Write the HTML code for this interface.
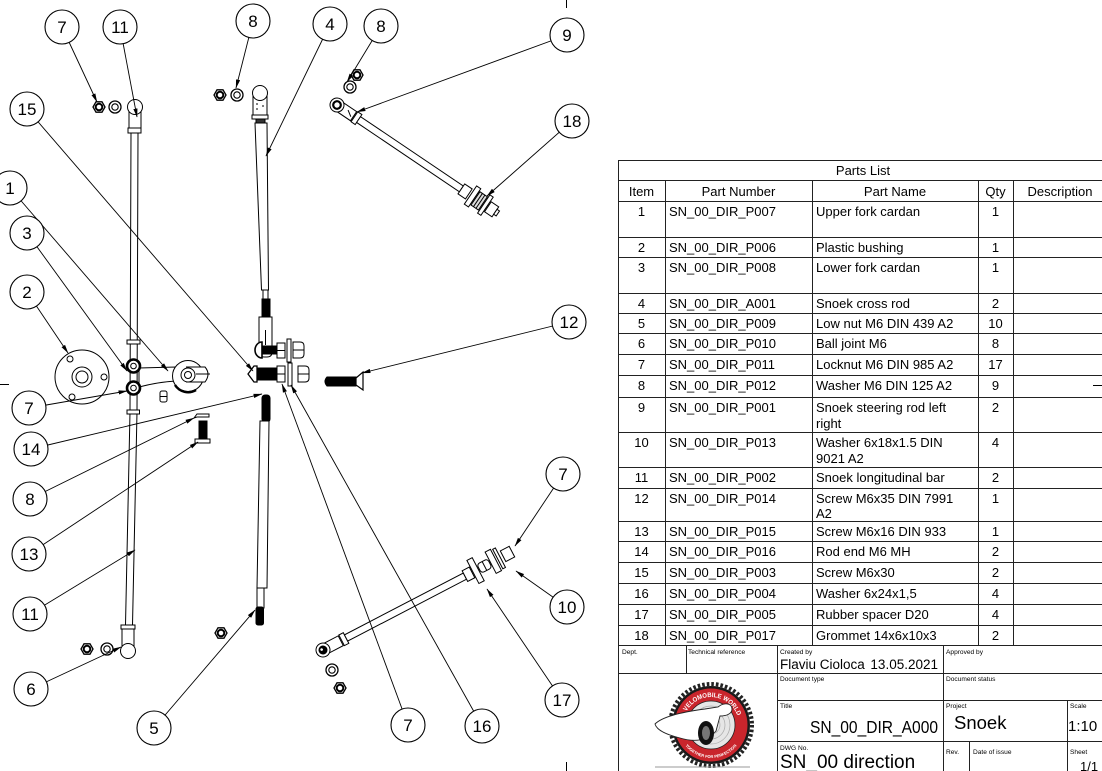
<!DOCTYPE html>
<html><head><meta charset="utf-8">
<style>
html,body{margin:0;padding:0;background:#fff;}
svg{display:block;}
text{font-family:"Liberation Sans",Arial,sans-serif;fill:#000;}
</style></head><body>
<svg width="1102" height="771" viewBox="0 0 1102 771" xmlns="http://www.w3.org/2000/svg">
<defs>
<marker id="ar" markerWidth="9" markerHeight="6" refX="8.5" refY="3" orient="auto" markerUnits="userSpaceOnUse"><path d="M0,0.9 L9,3 L0,5.1 Z" fill="#000"/></marker>
<g id="nut"><polygon points="6,0 3,5.2 -3,5.2 -6,0 -3,-5.2 3,-5.2" fill="#fff" stroke="#000" stroke-width="1.3"/><circle r="3.3" fill="#fff" stroke="#000" stroke-width="2"/></g>
<g id="wsh"><circle r="6" fill="#fff" stroke="#000" stroke-width="1.3"/><circle r="3.2" fill="#fff" stroke="#000" stroke-width="1.1"/></g>
<path id="arcT" d="M685.6,713.2 A28,28 0 0,1 738,717.7"/>
<path id="arcB" d="M682.4,741.5 A33,33 0 0,0 739.6,741.5"/>
</defs>

<!-- border ticks -->
<g stroke="#000" stroke-width="1">
<line x1="566.5" y1="0" x2="566.5" y2="8"/>
<line x1="566.5" y1="762" x2="566.5" y2="771"/>
<line x1="0" y1="384.5" x2="9" y2="384.5"/>
<line x1="1093" y1="385.5" x2="1102" y2="385.5"/>
</g>

<!-- ============ PARTS ============ -->
<g stroke="#000" stroke-width="1" fill="#fff">
<!-- left longitudinal bar 11 -->
<rect x="129" y="107" width="12" height="21"/>
<circle cx="135" cy="107" r="7.5"/>
<rect x="128" y="128" width="13" height="5"/>
<polygon points="131,133 138,133 137,412 132.5,625 125.5,625 130,412"/>
<rect x="121" y="625" width="14" height="4"/>
<path d="M122,629 L134,629 L134,646 L122,646 Z"/>
<circle cx="128" cy="651" r="7.5"/>
<!-- cardan block -->
<rect x="127" y="340" width="13" height="4"/>
<rect x="127" y="410" width="12.5" height="4"/>
<path d="M139,368 L176,367 L176,381 Q158,382 139,387 Z"/>
<circle cx="133.5" cy="366" r="6.5" stroke-width="2.6"/>
<circle cx="133.5" cy="366" r="2.8"/>
<circle cx="133.5" cy="388" r="6.5" stroke-width="2.6"/>
<circle cx="133.5" cy="388" r="2.8"/>
<!-- pulley / upper fork cardan -->
<circle cx="188" cy="376" r="15.5"/>
<path d="M175,385 A15.5,15.5 0 0,0 196,390" fill="none" stroke-width="2.5"/>
<path d="M186,367 L205,367 Q211,374 205,382 L186,382" />
<line x1="196" y1="374" x2="210" y2="374"/>
<circle cx="188" cy="375" r="7"/>
<circle cx="188" cy="375" r="3.5"/>
<!-- small nut -->
<rect x="160" y="391" width="7" height="11" rx="2"/>
<line x1="160" y1="396.5" x2="167" y2="396.5"/>
<!-- flange 2 -->
<circle cx="82" cy="377" r="27"/>
<circle cx="82" cy="377" r="10"/>
<circle cx="82" cy="377" r="6"/>
<circle cx="70" cy="359" r="3"/>
<circle cx="104" cy="377" r="3"/>
<circle cx="72" cy="397" r="3"/>
<!-- rod end 14 small piece -->
<path d="M194,418 L197,414 L209,414 L209,417 L197,417 Z"/>
<!-- screw 13 -->
<rect x="199" y="421" width="8" height="18" fill="#000"/>
<rect x="195" y="439" width="15" height="4"/>

<!-- upper rod 4 -->
<rect x="253" y="95" width="14" height="20"/>
<line x1="256" y1="104" x2="258" y2="104"/>
<line x1="262" y1="106" x2="264" y2="106"/>
<line x1="256" y1="109" x2="258" y2="109"/>
<circle cx="260" cy="93" r="7.5"/>
<rect x="252" y="115" width="16" height="4"/>
<rect x="256" y="119" width="9" height="4" fill="#333"/>
<polygon points="255,123 267,123 268.5,290 261.5,290"/>
<rect x="263" y="290" width="5" height="9"/>
<rect x="262" y="299" width="8" height="18" fill="#000"/>
<path d="M259,317 L272,317 L272,352 Q272,357 267,357 L264,357 Q259,357 259,352 Z"/>
<line x1="265.5" y1="330" x2="265.5" y2="345"/>
<!-- bolt 1 -->
<rect x="263" y="346" width="14" height="8" fill="#000"/>
<path d="M262,342 A7,8 0 0,0 262,358 Z" stroke-width="1.6"/>
<rect x="277" y="343" width="8" height="15"/>
<line x1="277" y1="350.5" x2="285" y2="350.5"/>
<rect x="287" y="339" width="4" height="23"/>
<path d="M293,342 L300,342 Q304,342 304,346 L304,354 Q304,358 300,358 L293,358 Z"/>
<line x1="293" y1="350" x2="304" y2="350"/>
<!-- bolt 2 -->
<rect x="257" y="368" width="20" height="12" fill="#000"/>
<polygon points="248,374 254,366 257,366 257,382 254,382" stroke-width="1.3"/>
<rect x="277" y="366" width="8" height="16"/>
<line x1="277" y1="374" x2="285" y2="374"/>
<rect x="288" y="363" width="4" height="23"/>
<path d="M298,366 L305,366 Q309,366 309,370 L309,378 Q309,382 305,382 L298,382 Z"/>
<line x1="298" y1="374" x2="309" y2="374"/>
<!-- screw 12 -->
<path d="M327,377 L356,377 L356,386 L327,386 Q323,381.5 327,377 Z" fill="#000"/>
<polygon points="356,378 363,372 363,390 356,385" stroke-width="1.2"/>

<!-- lower rod 5 -->
<rect x="262" y="395" width="8" height="27" rx="3" fill="#000"/>
<polygon points="260,421 269,421 267,588 257,588"/>
<rect x="257" y="588" width="7" height="20"/>
<rect x="256" y="607" width="7.5" height="18" rx="2" fill="#000"/>

<!-- upper right steering rod 9 -->
<g transform="translate(337,105) rotate(34)">
<rect x="0" y="-5.5" width="20" height="11"/>
<circle r="7"/>
<circle r="3.8" stroke-width="2.2"/>
<line x1="12" y1="-2" x2="18" y2="2"/>
<rect x="21" y="-6" width="5" height="12"/>
<rect x="26" y="-3.5" width="124" height="7"/>
<rect x="150" y="-6" width="9" height="12"/>
<rect x="161" y="-11" width="5" height="22"/>
<rect x="167" y="-8" width="9" height="16" fill="#ddd"/>
<line x1="170" y1="-8" x2="170" y2="8"/>
<line x1="173" y1="-8" x2="173" y2="8"/>
<rect x="177" y="-11" width="4" height="22"/>
<rect x="182" y="-6" width="9" height="12"/>
<rect x="191" y="-3" width="3" height="6"/>
</g>

<!-- lower steering rod -->
<g transform="translate(323,650) rotate(-27.5)">
<rect x="0" y="-5.5" width="20" height="11"/>
<circle r="7"/>
<circle r="4" fill="#000"/>
<circle cx="-1" cy="-1" r="1.3" fill="#fff" stroke="none"/>
<rect x="21" y="-6" width="5" height="12"/>
<rect x="26" y="-3.5" width="134" height="7"/>
<rect x="160" y="-6" width="8" height="12"/>
<rect x="169" y="-13" width="6" height="26"/>
<rect x="176" y="-5" width="12" height="10" rx="3"/>
<line x1="182" y1="-5" x2="182" y2="5"/>
<rect x="189" y="-12" width="6" height="24"/>
<rect x="197" y="-11" width="3" height="22"/>
<rect x="203" y="-6" width="10" height="12"/>
</g>
</g>

<!-- nuts & washers -->
<use href="#nut" x="99" y="107"/>
<use href="#wsh" x="115" y="107"/>
<use href="#nut" x="87" y="649"/>
<use href="#wsh" x="107" y="649"/>
<use href="#nut" x="220" y="95"/>
<use href="#wsh" x="237" y="95"/>
<use href="#nut" x="357" y="75"/>
<use href="#wsh" x="350" y="87"/>
<use href="#nut" x="221" y="633"/>
<use href="#wsh" x="332" y="670"/>
<use href="#nut" x="340" y="688"/>

<!-- ============ LEADERS ============ -->
<g stroke="#000" stroke-width="0.9" fill="none" marker-end="url(#ar)">
<line x1="62" y1="27" x2="97" y2="102"/>
<line x1="120" y1="27" x2="137" y2="117"/>
<line x1="253" y1="21" x2="236" y2="88"/>
<line x1="330" y1="24" x2="266" y2="156"/>
<line x1="381" y1="26" x2="347" y2="82"/>
<line x1="567" y1="35" x2="357" y2="112"/>
<line x1="572" y1="121" x2="487" y2="196"/>
<line x1="27" y1="109" x2="253" y2="371"/>
<line x1="10" y1="188" x2="168" y2="371"/>
<line x1="27" y1="233" x2="127" y2="371"/>
<line x1="27" y1="292" x2="68" y2="353"/>
<line x1="569" y1="322" x2="362" y2="373"/>
<line x1="29" y1="408" x2="127" y2="391"/>
<line x1="31" y1="449" x2="262" y2="394"/>
<line x1="30" y1="499" x2="194" y2="418"/>
<line x1="29" y1="554" x2="198" y2="442"/>
<line x1="30" y1="614" x2="135" y2="550"/>
<line x1="31" y1="689" x2="121" y2="647"/>
<line x1="154" y1="728" x2="255" y2="610"/>
<line x1="408" y1="725" x2="282" y2="384"/>
<line x1="482" y1="726" x2="291" y2="385"/>
<line x1="562" y1="700" x2="487" y2="589"/>
<line x1="567" y1="607" x2="516" y2="571"/>
<line x1="563" y1="474" x2="515" y2="546"/>
</g>

<!-- ============ BALLOONS ============ -->
<g stroke="#000" stroke-width="1.1" fill="#fff">
<circle cx="62" cy="27" r="17"/><circle cx="120" cy="27" r="17"/><circle cx="253" cy="21" r="17"/>
<circle cx="330" cy="24" r="17"/><circle cx="381" cy="26" r="17"/><circle cx="567" cy="35" r="17"/>
<circle cx="27" cy="109" r="17"/><circle cx="572" cy="121" r="17"/><circle cx="10" cy="188" r="17"/>
<circle cx="27" cy="233" r="17"/><circle cx="27" cy="292" r="17"/><circle cx="569" cy="322" r="17"/>
<circle cx="29" cy="408" r="17"/><circle cx="31" cy="449" r="17"/><circle cx="30" cy="499" r="17"/>
<circle cx="29" cy="554" r="17"/><circle cx="30" cy="614" r="17"/><circle cx="31" cy="689" r="17"/>
<circle cx="154" cy="728" r="17"/><circle cx="408" cy="725" r="17"/><circle cx="482" cy="726" r="17"/>
<circle cx="562" cy="700" r="17"/><circle cx="567" cy="607" r="17"/><circle cx="563" cy="474" r="17"/>
</g>
<g font-size="17" text-anchor="middle">
<text x="62" y="33">7</text><text x="120" y="33">11</text><text x="253" y="27">8</text>
<text x="330" y="30">4</text><text x="381" y="32">8</text><text x="567" y="41">9</text>
<text x="27" y="115">15</text><text x="572" y="127">18</text><text x="10" y="194">1</text>
<text x="27" y="239">3</text><text x="27" y="298">2</text><text x="569" y="328">12</text>
<text x="29" y="414">7</text><text x="31" y="455">14</text><text x="30" y="505">8</text>
<text x="29" y="560">13</text><text x="30" y="620">11</text><text x="31" y="695">6</text>
<text x="154" y="734">5</text><text x="408" y="731">7</text><text x="482" y="732">16</text>
<text x="562" y="706">17</text><text x="567" y="613">10</text><text x="563" y="480">7</text>
</g>

<!-- ============ PARTS LIST TABLE ============ -->
<g stroke="#222" stroke-width="1" shape-rendering="crispEdges">
<line x1="618" y1="160.5" x2="1102" y2="160.5"/>
<line x1="618" y1="180.5" x2="1102" y2="180.5"/>
<line x1="618" y1="201.5" x2="1102" y2="201.5"/>
<line x1="618" y1="237.5" x2="1102" y2="237.5"/>
<line x1="618" y1="257.5" x2="1102" y2="257.5"/>
<line x1="618" y1="293.5" x2="1102" y2="293.5"/>
<line x1="618" y1="313.5" x2="1102" y2="313.5"/>
<line x1="618" y1="333.5" x2="1102" y2="333.5"/>
<line x1="618" y1="354.5" x2="1102" y2="354.5"/>
<line x1="618" y1="375.5" x2="1102" y2="375.5"/>
<line x1="618" y1="397.5" x2="1102" y2="397.5"/>
<line x1="618" y1="432.5" x2="1102" y2="432.5"/>
<line x1="618" y1="467.5" x2="1102" y2="467.5"/>
<line x1="618" y1="488.5" x2="1102" y2="488.5"/>
<line x1="618" y1="521.5" x2="1102" y2="521.5"/>
<line x1="618" y1="541.5" x2="1102" y2="541.5"/>
<line x1="618" y1="562.5" x2="1102" y2="562.5"/>
<line x1="618" y1="583.5" x2="1102" y2="583.5"/>
<line x1="618" y1="604.5" x2="1102" y2="604.5"/>
<line x1="618" y1="625.5" x2="1102" y2="625.5"/>
<line x1="618" y1="645.5" x2="1102" y2="645.5"/>
<line x1="618.5" y1="160" x2="618.5" y2="771"/>
<line x1="665.5" y1="180" x2="665.5" y2="645"/>
<line x1="812.5" y1="180" x2="812.5" y2="645"/>
<line x1="978.5" y1="180" x2="978.5" y2="645"/>
<line x1="1013.5" y1="180" x2="1013.5" y2="645"/>
<!-- title block -->
<line x1="618" y1="673.5" x2="1102" y2="673.5"/>
<line x1="777" y1="700.5" x2="1102" y2="700.5"/>
<line x1="777" y1="741.5" x2="1102" y2="741.5"/>
<line x1="686.5" y1="645" x2="686.5" y2="673"/>
<line x1="777.5" y1="645" x2="777.5" y2="771"/>
<line x1="943.5" y1="645" x2="943.5" y2="771"/>
<line x1="969.5" y1="741" x2="969.5" y2="771"/>
<line x1="1067.5" y1="700" x2="1067.5" y2="771"/>
</g>

<g font-size="13">
<text x="863" y="175" text-anchor="middle">Parts List</text>
<text x="641.5" y="196" text-anchor="middle">Item</text>
<text x="738.5" y="196" text-anchor="middle">Part Number</text>
<text x="895" y="196" text-anchor="middle">Part Name</text>
<text x="995.5" y="196" text-anchor="middle">Qty</text>
<text x="1060" y="196" text-anchor="middle">Description</text>
</g>
<g font-size="13">
<g text-anchor="middle">
<text x="641.5" y="216">1</text><text x="641.5" y="252">2</text><text x="641.5" y="272">3</text>
<text x="641.5" y="308">4</text><text x="641.5" y="328">5</text><text x="641.5" y="348">6</text>
<text x="641.5" y="369">7</text><text x="641.5" y="390">8</text><text x="641.5" y="412">9</text>
<text x="641.5" y="447">10</text><text x="641.5" y="482">11</text><text x="641.5" y="503">12</text>
<text x="641.5" y="536">13</text><text x="641.5" y="556">14</text><text x="641.5" y="577">15</text>
<text x="641.5" y="598">16</text><text x="641.5" y="619">17</text><text x="641.5" y="640">18</text>
<text x="995.5" y="216">1</text><text x="995.5" y="252">1</text><text x="995.5" y="272">1</text>
<text x="995.5" y="308">2</text><text x="995.5" y="328">10</text><text x="995.5" y="348">8</text>
<text x="995.5" y="369">17</text><text x="995.5" y="390">9</text><text x="995.5" y="412">2</text>
<text x="995.5" y="447">4</text><text x="995.5" y="482">2</text><text x="995.5" y="503">1</text>
<text x="995.5" y="536">1</text><text x="995.5" y="556">2</text><text x="995.5" y="577">2</text>
<text x="995.5" y="598">4</text><text x="995.5" y="619">4</text><text x="995.5" y="640">2</text>
</g>
<text x="669" y="216">SN_00_DIR_P007</text><text x="816" y="216">Upper fork cardan</text>
<text x="669" y="252">SN_00_DIR_P006</text><text x="816" y="252">Plastic bushing</text>
<text x="669" y="272">SN_00_DIR_P008</text><text x="816" y="272">Lower fork cardan</text>
<text x="669" y="308">SN_00_DIR_A001</text><text x="816" y="308">Snoek cross rod</text>
<text x="669" y="328">SN_00_DIR_P009</text><text x="816" y="328">Low nut M6 DIN 439 A2</text>
<text x="669" y="348">SN_00_DIR_P010</text><text x="816" y="348">Ball joint M6</text>
<text x="669" y="369">SN_00_DIR_P011</text><text x="816" y="369">Locknut M6 DIN 985 A2</text>
<text x="669" y="390">SN_00_DIR_P012</text><text x="816" y="390">Washer M6 DIN 125 A2</text>
<text x="669" y="412">SN_00_DIR_P001</text><text x="816" y="412">Snoek steering rod left</text><text x="816" y="428">right</text>
<text x="669" y="447">SN_00_DIR_P013</text><text x="816" y="447">Washer 6x18x1.5 DIN</text><text x="816" y="463">9021 A2</text>
<text x="669" y="482">SN_00_DIR_P002</text><text x="816" y="482">Snoek longitudinal bar</text>
<text x="669" y="503">SN_00_DIR_P014</text><text x="816" y="503">Screw M6x35 DIN 7991</text><text x="816" y="518">A2</text>
<text x="669" y="536">SN_00_DIR_P015</text><text x="816" y="536">Screw M6x16 DIN 933</text>
<text x="669" y="556">SN_00_DIR_P016</text><text x="816" y="556">Rod end M6 MH</text>
<text x="669" y="577">SN_00_DIR_P003</text><text x="816" y="577">Screw M6x30</text>
<text x="669" y="598">SN_00_DIR_P004</text><text x="816" y="598">Washer 6x24x1,5</text>
<text x="669" y="619">SN_00_DIR_P005</text><text x="816" y="619">Rubber spacer D20</text>
<text x="669" y="640">SN_00_DIR_P017</text><text x="816" y="640">Grommet 14x6x10x3</text>
</g>

<!-- title block text -->
<g font-size="6.6" fill="#222">
<text x="622" y="654">Dept.</text>
<text x="688" y="654">Technical reference</text>
<text x="780" y="654">Created by</text>
<text x="946" y="654">Approved by</text>
<text x="780" y="681">Document type</text>
<text x="946" y="681">Document status</text>
<text x="780" y="708">Title</text>
<text x="946" y="708">Project</text>
<text x="1070" y="708">Scale</text>
<text x="780" y="750">DWG No.</text>
<text x="946" y="754">Rev.</text>
<text x="973" y="754">Date of issue</text>
<text x="1070" y="754">Sheet</text>
</g>
<text x="780" y="669" font-size="13.5">Flaviu Cioloca</text>
<text x="938" y="669" font-size="13.5" text-anchor="end">13.05.2021</text>
<text x="938" y="733" font-size="17.5" text-anchor="end" textLength="128" lengthAdjust="spacingAndGlyphs">SN_00_DIR_A000</text>
<text x="954" y="729" font-size="18.5">Snoek</text>
<text x="1068" y="731" font-size="15">1:10</text>
<text x="780" y="768" font-size="19">SN_00 direction</text>
<text x="1080" y="771" font-size="13">1/1</text>

<!-- logo -->
<g>
<circle cx="711" cy="725" r="41" fill="none" stroke="#222" stroke-width="4" stroke-dasharray="2.6 2"/>
<circle cx="711" cy="725" r="39" fill="#1a1a1a"/>
<circle cx="711" cy="725" r="36.5" fill="#c9252c"/>
<circle cx="711" cy="725" r="24" fill="#e6e6e6" stroke="#222" stroke-width="0.8"/>
<circle cx="711" cy="725" r="19" fill="none" stroke="#aaa" stroke-width="0.7"/>
<circle cx="711" cy="725" r="14" fill="none" stroke="#aaa" stroke-width="0.7"/>
<circle cx="711" cy="725" r="9" fill="none" stroke="#aaa" stroke-width="0.7"/>
<path d="M655,724 C662,717 682,712 705,709 L718,707 C724,702 732,703 732,709 C732,714 726,716 720,716 L716,731 C705,743 690,741 680,738 C668,735 657,731 655,724 Z" fill="#fff" stroke="#222" stroke-width="0.9"/>
<ellipse cx="706" cy="733" rx="8" ry="12" fill="#111"/>
<ellipse cx="706" cy="733" rx="4" ry="7" fill="#777"/>
<text font-size="6.5" font-weight="bold" style="fill:#fff" text-anchor="middle" textLength="64" lengthAdjust="spacingAndGlyphs"><textPath href="#arcT" startOffset="50%" textLength="64" lengthAdjust="spacingAndGlyphs">VELOMOBILE WORLD</textPath></text>
<text font-size="4" font-weight="bold" style="fill:#fff" text-anchor="middle"><textPath href="#arcB" startOffset="50%">TOGETHER FOR PERFECTION</textPath></text>
<line x1="655" y1="767" x2="750" y2="767" stroke="#999" stroke-width="1"/>
</g>
</svg>
</body></html>
